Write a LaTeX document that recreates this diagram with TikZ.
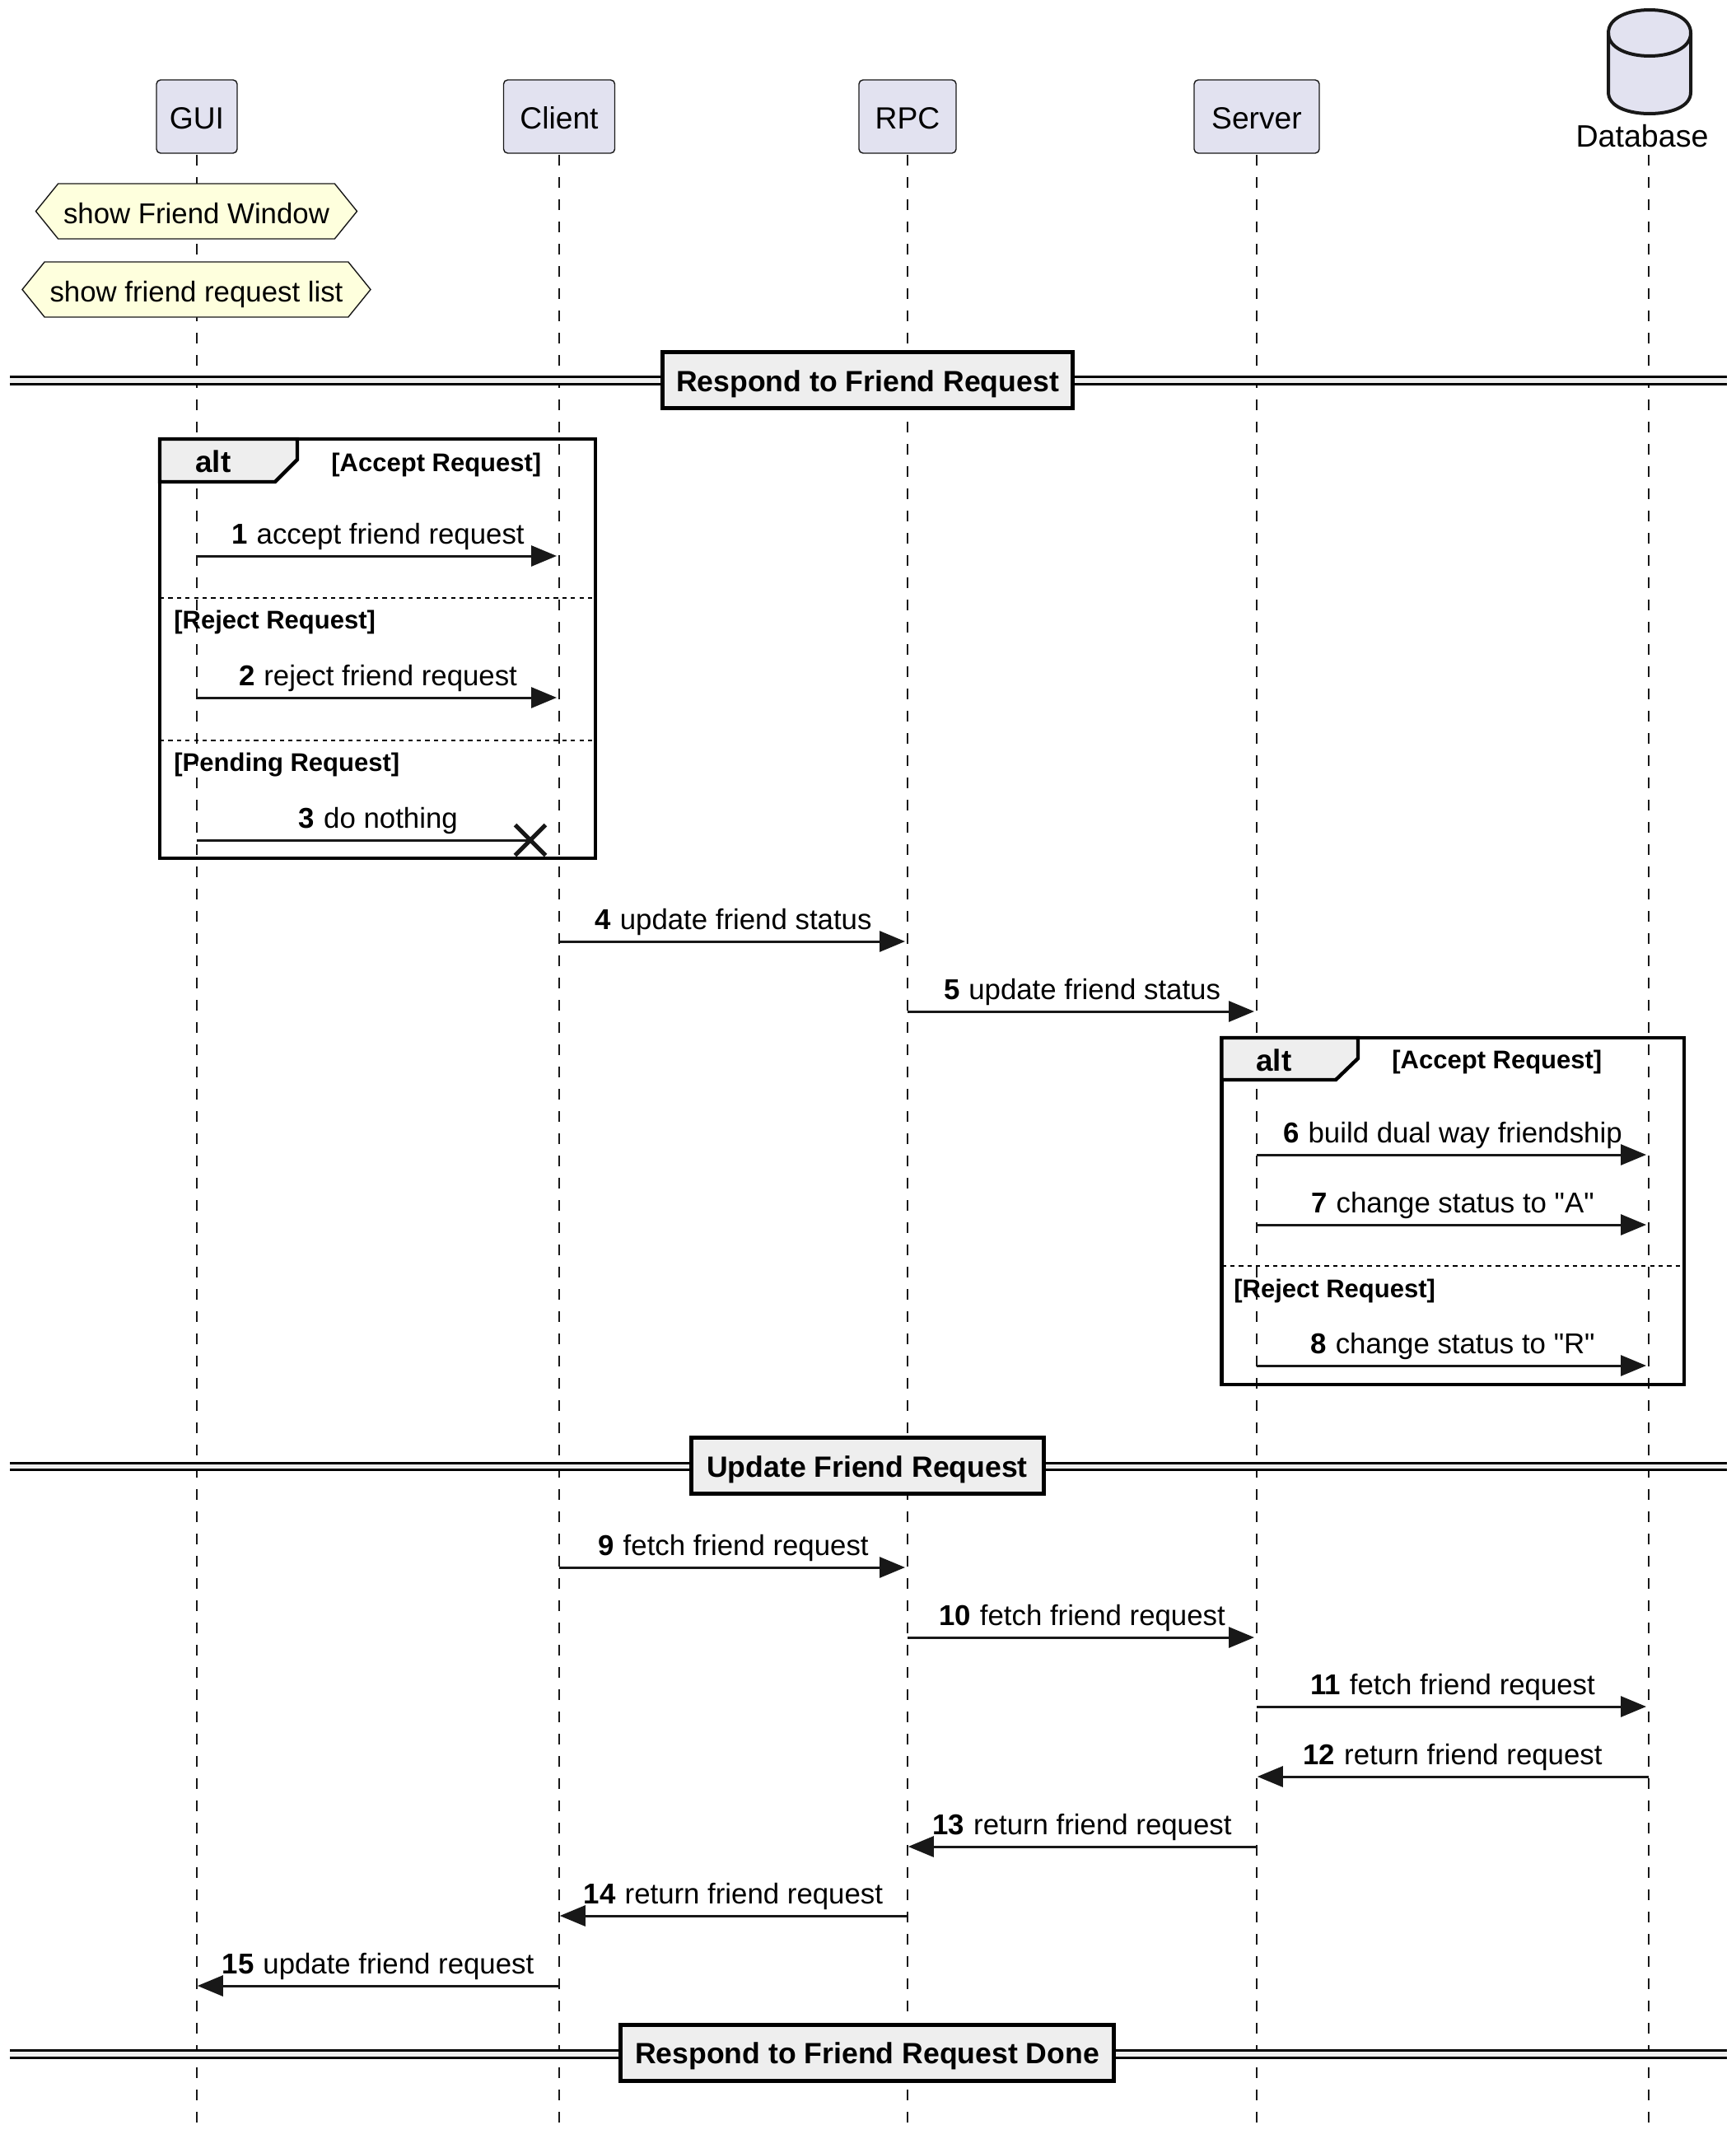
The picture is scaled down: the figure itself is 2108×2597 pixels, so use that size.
\documentclass[tikz,border=0pt]{standalone}
\usepackage{fontspec}
\setmainfont{Liberation Sans}[Ligatures=TeXOff]
\usetikzlibrary{shapes,arrows.meta}

\definecolor{actorfill}{HTML}{E2E2F0}
\definecolor{notefill}{HTML}{FEFFDD}
\definecolor{groupfill}{HTML}{EEEEEE}
\definecolor{ink}{HTML}{181818}
\newcommand{\stepno}[1]{\textbf{#1}\hspace{5.5pt}}

\begin{document}
\begin{tikzpicture}[x=0.5pt, y=-0.5pt]
        \tikzstyle{participant} = [rectangle, draw=ink, fill=actorfill, line width=0.7pt, rounded corners=2.5pt, minimum height=44.5pt, inner sep=0pt, text height=18pt, text depth=3.5pt, font=\fontsize{18.6}{22}\selectfont]
        \tikzstyle{store} = [draw=ink, fill=actorfill, line width=2pt]
        \tikzstyle{note} = [signal, signal to=east and west, signal pointer angle=102, draw=ink, fill=notefill, line width=0.7pt, minimum height=33.5pt, inner sep=0pt, text height=18pt, text depth=3.5pt, font=\fontsize{17.4}{21}\selectfont]
        \tikzstyle{lifeline} = [draw=ink, line width=0.65pt, dash pattern=on 6.5pt off 7pt]
        \tikzstyle{line} = [draw=ink, line width=1.5pt, shorten >=1.5pt, -{Triangle[length=15.5pt, width=12.5pt]}]
        \tikzstyle{back} = [line, shorten >=0.4pt]
        \tikzstyle{lost} = [draw=ink, line width=1.5pt]
        \tikzstyle{msg} = [anchor=base, yshift=7.5pt, inner sep=0pt, font=\fontsize{17.4}{21}\selectfont]
        \tikzstyle{frame} = [rectangle, draw=black, line width=2.2pt, inner sep=0pt, outer sep=0pt]
        \tikzstyle{tab} = [draw=black, fill=groupfill, line width=2.2pt]
        \tikzstyle{guard} = [anchor=base west, inner sep=0pt, font=\bfseries\fontsize{15.5}{18}\selectfont]
        \tikzstyle{altname} = [anchor=base west, inner sep=0pt, font=\bfseries\fontsize{18.4}{22}\selectfont]
        \tikzstyle{split} = [draw=black, line width=1.4pt, dash pattern=on 2.6pt off 2.6pt]
        \tikzstyle{rail} = [draw=black, line width=1.5pt, double=groupfill, double distance=2.6pt]
        \tikzstyle{divider} = [rectangle, draw=black, fill=groupfill, line width=2.5pt, minimum height=34pt, inner sep=0pt, text height=18pt, text depth=4.5pt, font=\bfseries\fontsize{17.8}{22}\selectfont]

    \useasboundingbox (0,0) rectangle (2108,2597);

    \node [participant, minimum width=49pt] (gui) at (239,141.5) {GUI};
    \node [participant, minimum width=67.5pt] (client) at (679,141.5) {Client};
    \node [participant, minimum width=59pt] (rpc) at (1102,141.5) {RPC};
    \node [participant, minimum width=76pt] (server) at (1526,141.5) {Server};
    \coordinate (database) at (2002,75);
    \draw [store] (1953,40) .. controls (1953,21) and (1978,12) .. (2003,12) .. controls (2028,12) and (2053,21) .. (2053,40) -- (2053,112) .. controls (2053,130) and (2028,138) .. (2003,138) .. controls (1978,138) and (1953,130) .. (1953,112) -- cycle;
    \draw [store, fill=none] (1953,40) .. controls (1953,59) and (1978,68) .. (2003,68) .. controls (2028,68) and (2053,59) .. (2053,40);
    \node [anchor=base, inner sep=0pt, font=\fontsize{18.8}{22}\selectfont] (database label) at (1994,178) {Database};

    \path [lifeline] (gui |- 0,188) -- (gui |- 0,2583);
    \path [lifeline] (client |- 0,188) -- (client |- 0,2583);
    \path [lifeline] (rpc |- 0,188) -- (rpc |- 0,2583);
    \path [lifeline] (server |- 0,188) -- (server |- 0,2583);
    \path [lifeline] (database |- 0,188) -- (database |- 0,2583);

    \node [note, minimum width=195pt] (friend window) at (238.5,256.5) {show Friend Window};
    \node [note, minimum width=211.5pt] (request list) at (238.5,351.5) {show friend request list};

    \coordinate (rail 1 left) at (12,462);
    \coordinate (rail 1 right) at (2097,462);
    \path [rail] (rail 1 left) -- (rail 1 right);
    \node [divider, minimum width=249pt] (respond) at (1053.5,461.5) {Respond to Friend Request};

    \node [frame, minimum width=264.5pt, minimum height=254.5pt] (alt 1) at (458.5,787.5) {};
    \path [tab] (alt 1.north west) -- ++(167,0) -- ++(0,25) -- ++(-27,27) -- ++(-140,0) -- cycle;
    \node [altname] (alt 1 name) at (237,573) {alt};
    \node [guard] (accept 1) at (402,572) {[Accept Request]};
    \path [split] (alt 1.west |- 0,726) -- (alt 1.east |- 0,726);
    \node [guard] (reject 1) at (211,763) {[Reject Request]};
    \path [split] (alt 1.west |- 0,899) -- (alt 1.east |- 0,899);
    \node [guard] (pending 1) at (211,936) {[Pending Request]};

    \path [line] (gui |- 0,675) -- node [msg] {\stepno{1}accept friend request} (client |- 0,675);
    \path [line] (gui |- 0,847) -- node [msg] {\stepno{2}reject friend request} (client |- 0,847);
    \node [cross out, draw=ink, line width=2.5pt, minimum width=16pt, minimum height=16pt, inner sep=0pt] (stop) at (644,1020) {};
    \path [lost] (gui |- 0,1020) -- node [msg, pos=0.544] {\stepno{3}do nothing} (stop.center);
    \path [line] (client |- 0,1143) -- node [msg] {\stepno{4}update friend status} (rpc |- 0,1143);
    \path [line] (rpc |- 0,1228) -- node [msg] {\stepno{5}update friend status} (server |- 0,1228);

    \node [frame, minimum width=280.75pt, minimum height=210.5pt] (alt 2) at (1764.25,1470.5) {};
    \path [tab] (alt 2.north west) -- ++(165.5,0) -- ++(0,25) -- ++(-27,26) -- ++(-138.5,0) -- cycle;
    \node [altname] (alt 2 name) at (1525,1300) {alt};
    \node [guard] (accept 2) at (1690,1297) {[Accept Request]};
    \path [split] (alt 2.west |- 0,1537) -- (alt 2.east |- 0,1537);
    \node [guard] (reject 2) at (1498,1575) {[Reject Request]};

    \path [line] (server |- 0,1402) -- node [msg] {\stepno{6}build dual way friendship} (database |- 0,1402);
    \path [line] (server |- 0,1487) -- node [msg] {\stepno{7}change status to "A"} (database |- 0,1487);
    \path [line] (server |- 0,1658) -- node [msg] {\stepno{8}change status to "R"} (database |- 0,1658);

    \coordinate (rail 2 left) at (12,1780.5);
    \coordinate (rail 2 right) at (2097,1780.5);
    \path [rail] (rail 2 left) -- (rail 2 right);
    \node [divider, minimum width=214pt] (update) at (1053,1779.5) {Update Friend Request};

    \path [line] (client |- 0,1903) -- node [msg] {\stepno{9}fetch friend request} (rpc |- 0,1903);
    \path [line] (rpc |- 0,1988) -- node [msg] {\stepno{10}fetch friend request} (server |- 0,1988);
    \path [line] (server |- 0,2072) -- node [msg] {\stepno{11}fetch friend request} (database |- 0,2072);
    \path [back] (database |- 0,2157) -- node [msg] {\stepno{12}return friend request} (server |- 0,2157);
    \path [back] (server |- 0,2242) -- node [msg] {\stepno{13}return friend request} (rpc |- 0,2242);
    \path [back] (rpc |- 0,2326) -- node [msg] {\stepno{14}return friend request} (client |- 0,2326);
    \path [back] (client |- 0,2411) -- node [msg] {\stepno{15}update friend request} (gui |- 0,2411);

    \coordinate (rail 3 left) at (12,2494);
    \coordinate (rail 3 right) at (2097,2494);
    \path [rail] (rail 3 left) -- (rail 3 right);
    \node [divider, minimum width=299.5pt] (done) at (1053,2492) {Respond to Friend Request Done};
    \end{tikzpicture}
\end{document}
